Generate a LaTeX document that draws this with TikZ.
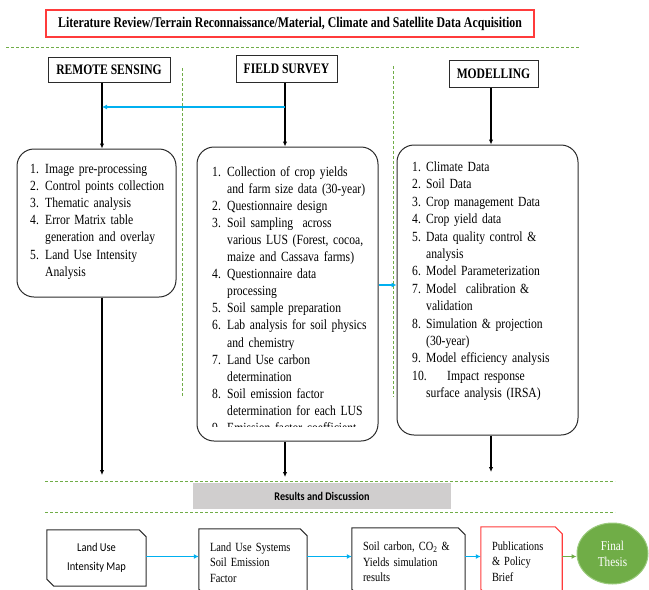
\documentclass[tikz,border=0pt]{standalone}
\usepackage{fontspec}
\setmainfont{Liberation Serif}
\newfontfamily\tnr[FakeStretch=0.83]{Liberation Serif}
\newfontfamily\tnrc[FakeStretch=0.8]{Liberation Serif}
\newfontfamily\calf[FakeStretch=0.87]{Carlito}
\usetikzlibrary{arrows.meta,shapes.geometric}
\definecolor{blueC}{HTML}{00B0F0}
\definecolor{greenC}{HTML}{70AD47}
\definecolor{greenL}{HTML}{9CCB7E}
\definecolor{redC}{HTML}{FF3B3B}
\definecolor{grayC}{HTML}{D0CECE}
\definecolor{lineC}{HTML}{2B2B2B}
\newcommand\lnum[1]{\makebox[15pt][l]{#1}}
\newcommand\lcont{\hspace*{15pt}}
\newcommand\snipoutline[2]{\draw[#2] (#1.north west) -- ([xshift=-7pt]#1.north east) -- ([yshift=-7pt]#1.north east) -- (#1.south east) -- ([xshift=7pt]#1.south west) -- ([yshift=7pt]#1.south west) -- cycle;}
\tikzset{
  titlebox/.style={draw=redC, line width=1.1pt, inner sep=0pt, minimum width=488pt, minimum height=27pt, font=\tnrc\bfseries\fontsize{14.8}{16}\selectfont},
  hdr/.style={draw=lineC, line width=1pt, inner sep=0pt, font=\tnrc\bfseries\fontsize{14.5}{16}\selectfont},
  listbox/.style={draw=lineC, line width=1pt, rounded corners=17pt},
  listtext/.style={anchor=base west, inner sep=0pt, align=left, text width=#1},
  rsfont/.style={font=\tnr\fontsize{14}{17.2}\selectfont},
  fsfont/.style={font=\tnr\fontsize{14}{17.1}\selectfont},
  mfont/.style={font=\tnr\fontsize{14}{17.4}\selectfont},
  arr/.style={-{Latex[length=5pt,width=4.5pt]}, line width=1.1pt, black},
  barr/.style={-{Latex[length=5pt,width=5pt]}, line width=1.8pt, blueC},
  garr/.style={-{Latex[length=5pt,width=5pt]}, line width=1.8pt, greenC},
  gdash/.style={greenC, line width=0.9pt, dash pattern=on 3pt off 2pt},
  outbox/.style={inner sep=0pt, align=left, font=\tnr\fontsize{12.5}{15.5}\selectfont},
}
\begin{document}
\hyphenpenalty=10000
\exhyphenpenalty=10000
\begin{tikzpicture}[x=1pt,y=-1pt]
\useasboundingbox (0,0) rectangle (649,590);
\clip (0,0) rectangle (649,590);

% title
\node[titlebox] (title) at (290,23.5) {Literature Review/Terrain Reconnaissance/Material, Climate and Satellite Data Acquisition};

% dashed separators
\draw[gdash] (6,47) -- (579,47);
\draw[gdash] (182,68) -- (182,397);
\draw[gdash] (393,66) -- (393,397);
\draw[gdash] (45,481) -- (615,481);
\draw[gdash] (45,512) -- (615,512);

% headers
\node[hdr, minimum width=122pt, minimum height=25pt] (rs) at (109,69.5) {REMOTE SENSING};
\node[hdr, minimum width=101pt, minimum height=27pt] (fs) at (286.5,68.5) {FIELD SURVEY};
\node[hdr, minimum width=89pt, minimum height=27pt] (md) at (493.5,73.5) {MODELLING};

% list boxes
\node[listbox, minimum width=159pt, minimum height=148pt] (rsbox) at (96.5,223) {};
\node[listbox, minimum width=181pt, minimum height=294pt] (fsbox) at (287.5,294) {};
\node[listbox, minimum width=181pt, minimum height=290pt] (mbox) at (487.5,290) {};

% list texts
\node[listtext=145pt, rsfont] (rsT) at (30,173) {%
\lnum{1.}Image pre-processing\\
\lnum{2.}Control points collection\\
\lnum{3.}Thematic analysis\\
\lnum{4.}Error Matrix table\\
\lcont generation and overlay\\
\lnum{5.}Land Use Intensity\\
\lcont Analysis};

\node[listtext=165pt, fsfont] (fsT) at (212,176) {%
\lnum{1.}Collection of crop yields\\
\lcont and farm size data (30-year)\\
\lnum{2.}Questionnaire design\\
\lnum{3.}Soil sampling\ \ across\\
\lcont various LUS (Forest, cocoa,\\
\lcont maize and Cassava farms)\\
\lnum{4.}Questionnaire data\\
\lcont processing\\
\lnum{5.}Soil sample preparation\\
\lnum{6.}Lab analysis for soil physics\\
\lcont and chemistry\\
\lnum{7.}Land Use carbon\\
\lcont determination\\
\lnum{8.}Soil emission factor\\
\lcont determination for each LUS};
\begin{scope}
\clip (200,415) rectangle (376,426.5);
\node[listtext=165pt, fsfont] (fsT9) at (212,432.5) {\lnum{9.}Emission factor coefficient};
\end{scope}

\node[listtext=165pt, mfont] (mT) at (412,171.5) {%
\makebox[14pt][l]{1.}Climate Data\\
\makebox[14pt][l]{2.}Soil Data\\
\makebox[14pt][l]{3.}Crop management Data\\
\makebox[14pt][l]{4.}Crop yield data\\
\makebox[14pt][l]{5.}Data quality control \&\\
\hspace*{14pt}analysis\\
\makebox[14pt][l]{6.}Model Parameterization\\
\makebox[14pt][l]{7.}Model\ \ calibration \&\\
\hspace*{14pt}validation\\
\makebox[14pt][l]{8.}Simulation \& projection\\
\hspace*{14pt}(30-year)\\
\makebox[14pt][l]{9.}Model efficiency analysis\\
\makebox[14pt][l]{10.}\hspace*{21pt}Impact response\\
\hspace*{14pt}surface analysis (IRSA)};

% x positions of vertical connectors
\coordinate (rsx) at (102,0);
\coordinate (fsx) at (285,0);
\coordinate (mx) at (491,0);
\coordinate (bl) at (285,107);
\coordinate (bl2) at (0,285);
\coordinate (rsEnd) at (102,475);
\coordinate (fsEnd) at (285,477);
\coordinate (mEnd) at (491,472);

\draw[arr] (rs.south -| rsx) -- (rsbox.north -| rsx);
\draw[arr] (fs.south -| fsx) -- (fsbox.north -| fsx);
\draw[arr] (md.south -| mx) -- (mbox.north -| mx);
\draw[barr] (bl) -- (bl -| rsx);
\draw[barr] (fsbox.east |- bl2) -- (mbox.west |- bl2);

\draw[arr] (rsbox.south -| rsx) -- (rsEnd);
\draw[arr] (fsbox.south -| fsx) -- (fsEnd);
\draw[arr] (mbox.south -| mx) -- (mEnd);

% results
\node[fill=grayC, minimum width=258pt, minimum height=26pt, inner sep=0pt, font=\calf\bfseries\fontsize{11.7}{14}\selectfont] (res) at (322,496) {Results and Discussion};

% bottom row
\node[inner sep=0pt, minimum width=99pt, minimum height=56pt, align=center, font=\calf\fontsize{12}{19}\selectfont] (b1) at (96.5,558) {Land Use\\Intensity Map};
\snipoutline{b1}{lineC, line width=1pt}
\node[outbox, text width=86pt, minimum width=108pt, minimum height=67pt] (b2) at (253,562.5) {Land Use Systems\\Soil Emission\\Factor};
\snipoutline{b2}{lineC, line width=1pt}
\node[outbox, text width=91pt, minimum width=113pt, minimum height=68pt] (b3) at (408.5,562) {Soil carbon, CO\textsubscript{2} \&\\Yields simulation\\results};
\snipoutline{b3}{lineC, line width=1pt}
\node[outbox, text width=59pt, minimum width=81pt, minimum height=69pt] (b4) at (521.5,561.5) {Publications\\\& Policy\\Brief};
\snipoutline{b4}{redC, line width=1.1pt}
\node[ellipse, fill=greenC, draw=greenL, line width=1pt, minimum width=71pt, minimum height=61pt, inner sep=0pt, align=center, text=white, font=\tnr\fontsize{13.5}{16}\selectfont] (fin) at (612.5,553.5) {Final\\Thesis};

\coordinate (by) at (0,556.5);
\draw[barr] (b1.east |- by) -- (b2.west |- by);
\draw[barr] (b2.east |- by) -- (b3.west |- by);
\draw[barr] (b3.east |- by) -- (b4.west |- by);
\draw[garr] (b4.east |- by) -- (fin.west |- by);
\end{tikzpicture}
\end{document}
